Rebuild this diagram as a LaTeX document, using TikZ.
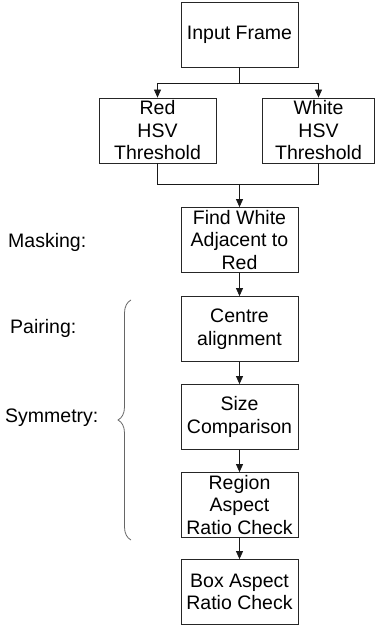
\documentclass[tikz,border=0pt]{standalone}
\usepackage{fontspec}
\setmainfont{Liberation Sans}
\usetikzlibrary{arrows.meta,decorations.pathreplacing}

\tikzset{
  stage/.style={draw=black!85, line width=0.8pt, minimum width=117pt, minimum height=65pt,
    inner sep=2pt, align=center, font=\fontsize{19.5}{22.5}\selectfont},
  tag/.style={anchor=west, inner sep=0pt, font=\fontsize{19.5}{22.5}\selectfont},
  flow/.style={line width=0.8pt, draw=black!90, -{Triangle[width=7pt,length=8pt]}},
  wire/.style={line width=0.8pt, draw=black!90}
}

\begin{document}
\begin{tikzpicture}[x=1pt,y=-1pt]
  \useasboundingbox (0,0) rectangle (376,628);

  % processing stages
  \node[stage] (input)  at (239.5,34.5) {Input Frame};
  \node[stage] (red)    at (157.5,130.5) {Red\\HSV\\Threshold};
  \node[stage, minimum width=112pt] (white) at (318.5,130.5) {White\\HSV\\Threshold};
  \node[stage] (find)   at (239.5,240) {Find White\\Adjacent to\\Red};
  \node[stage] (centre) at (239.5,329) {Centre\\alignment};
  \node[stage] (size)   at (239.5,417) {Size\\Comparison};
  \node[stage] (region) at (239.5,505) {Region\\Aspect\\Ratio Check};
  \node[stage] (boxasp) at (239.5,592) {Box Aspect\\Ratio Check};

  \coordinate (split) at (239.5,83);
  \coordinate (merge) at (239.5,184);

  % split into the two thresholds
  \draw[wire] (input.south) -- (split);
  \draw[flow] (split) -| (red.north);
  \draw[flow] (split) -| (white.north);

  % join the two masks
  \draw[wire] (red.south) |- (merge);
  \draw[wire] (white.south) |- (merge);
  \draw[flow] (merge) -- (find.north);

  \draw[flow] (find) -- (centre);
  \draw[flow] (centre) -- (size);
  \draw[flow] (size) -- (region);
  \draw[flow] (region) -- (boxasp);

  % step labels
  \node[tag] (masking)  at (8,242) {Masking:};
  \node[tag] (pairing)  at (10,328) {Pairing:};
  \node[tag] (symmetry) at (5,418) {Symmetry:};

  \coordinate (bracelo) at (131,540);
  \coordinate (bracehi) at (131,300);
  \draw[line width=0.8pt, draw=black!60, decorate, decoration={brace, amplitude=13pt}]
    (bracelo) -- (bracehi);
\end{tikzpicture}
\end{document}
